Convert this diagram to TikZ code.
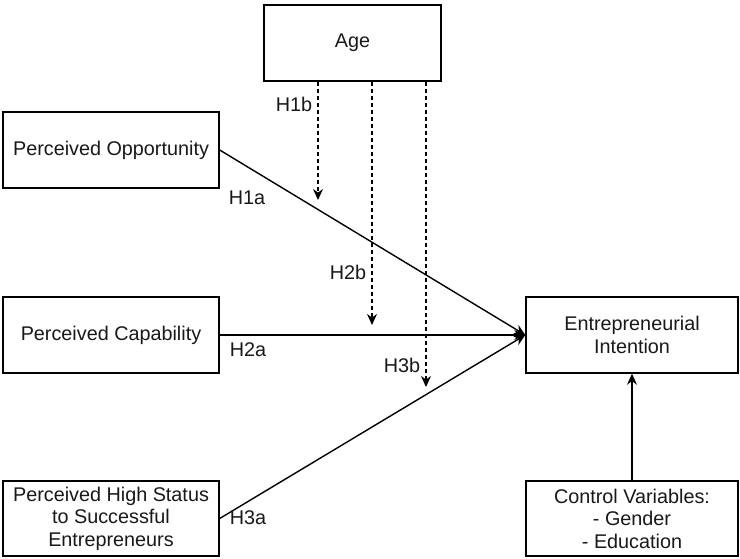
\documentclass[tikz,border=0pt]{standalone}
\usepackage{fontspec}
\setmainfont{Liberation Sans}
\usetikzlibrary{arrows.meta}
\begin{document}
\begin{tikzpicture}[x=1pt,y=-1pt,
  txt/.style={text=black!90, font=\fontsize{19.8}{22.5}\selectfont},
  box/.style={txt, draw=black, line width=1.4pt, fill=white, align=center,
    inner sep=0pt, minimum width=216pt, minimum height=76pt},
  lbl/.style={txt, inner sep=0pt},
  link/.style={draw=black, line width=1.4pt, -{Stealth[length=11pt,width=10pt]}},
  modlink/.style={link, dash pattern=on 4pt off 3pt}
]
\useasboundingbox (0,0) rectangle (740,558);
\fill[white] (0,0) rectangle (740,558);

% constructs
\node[box] (opp) at (111,150) {Perceived Opportunity};
\node[box] (cap) at (111,335) {Perceived Capability};
\node[box, minimum height=75pt] (hs) at (111,518.5)
  {Perceived High Status\\to Successful\\Entrepreneurs};
\node[box, minimum width=177pt] (age) at (352.5,43) {Age};
\node[box, minimum width=212pt] (ei) at (632,335) {Entrepreneurial\\Intention};
\node[box, minimum width=212pt, minimum height=75pt] (cv) at (632,518.5)
  {Control Variables:\\- Gender\\- Education};

% direct effects
\draw[link] (opp.east) -- (ei.west);
\draw[link] (cap.east) -- (ei.west);
\draw[link] (hs.east) -- (ei.west);
\draw[link] (cv.north) -- (ei.south);

% moderating effects of age
\coordinate (m1) at (318,200);
\coordinate (m2) at (372,325);
\coordinate (m3) at (426,387);
\draw[modlink] (age.south -| m1) -- (m1);
\draw[modlink] (age.south -| m2) -- (m2);
\draw[modlink] (age.south -| m3) -- (m3);

% hypothesis labels
\node[lbl] (h1b) at (294,104) {H1b};
\node[lbl] (h1a) at (247,198) {H1a};
\node[lbl] (h2b) at (348,272) {H2b};
\node[lbl] (h2a) at (248,350) {H2a};
\node[lbl] (h3b) at (402,365) {H3b};
\node[lbl] (h3a) at (248,518) {H3a};
\end{tikzpicture}
\end{document}
